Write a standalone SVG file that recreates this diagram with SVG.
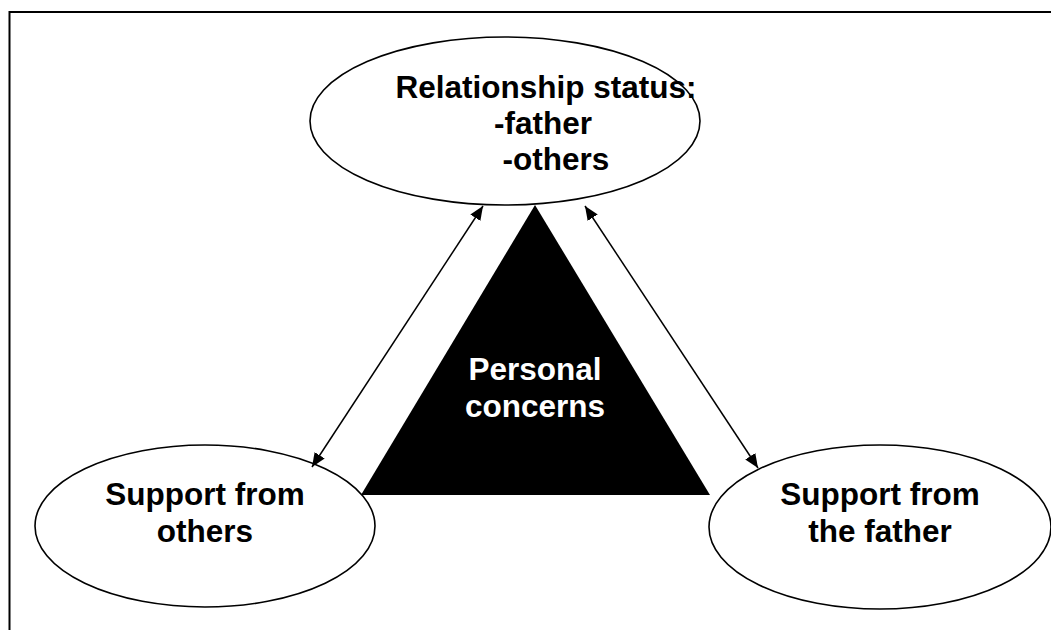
<svg xmlns="http://www.w3.org/2000/svg" width="1051" height="630" viewBox="0 0 1051 630">
  <defs>
    <marker id="ah" viewBox="0 0 14 12" refX="14" refY="6" markerWidth="14" markerHeight="12" markerUnits="userSpaceOnUse" orient="auto-start-reverse">
      <path d="M0,0 L14,6 L0,12 z" fill="#000"/>
    </marker>
    <style>
      .el { fill: #fff; stroke: #000; stroke-width: 1.6; }
      .lbl { font-family: "Liberation Sans", Arial, sans-serif; font-weight: bold; font-size: 31.5px; fill: #000; text-anchor: middle; }
      .wlbl { fill: #fff; }
      .conn { stroke: #000; stroke-width: 1.5; fill: none; marker-start: url(#ah); marker-end: url(#ah); }
    </style>
  </defs>
  <rect width="1051" height="630" fill="#fff"/>
  <path id="frame" d="M9.5,630 V12 H1051" fill="none" stroke="#000" stroke-width="2"/>

  <g id="node-relationship">
    <ellipse class="el" cx="505" cy="121" rx="195" ry="84"/>
    <text class="lbl" x="546" y="98">Relationship status:</text>
    <text class="lbl" x="543" y="134">-father</text>
    <text class="lbl" x="556" y="170">-others</text>
  </g>

  <g id="node-personal">
    <polygon points="535,205 361,495 710,495" fill="#000"/>
    <text class="lbl wlbl" x="535" y="380">Personal</text>
    <text class="lbl wlbl" x="535" y="417">concerns</text>
  </g>

  <g id="node-others">
    <ellipse class="el" cx="205" cy="526" rx="170" ry="81"/>
    <text class="lbl" x="205" y="505">Support from</text>
    <text class="lbl" x="205" y="542">others</text>
  </g>

  <g id="node-father">
    <ellipse class="el" cx="880" cy="527" rx="171" ry="82"/>
    <text class="lbl" x="880" y="505">Support from</text>
    <text class="lbl" x="880" y="542">the father</text>
  </g>

  <g id="connectors">
    <line class="conn" x1="483" y1="206" x2="312" y2="467"/>
    <line class="conn" x1="585" y1="206" x2="758" y2="468"/>
  </g>
</svg>
